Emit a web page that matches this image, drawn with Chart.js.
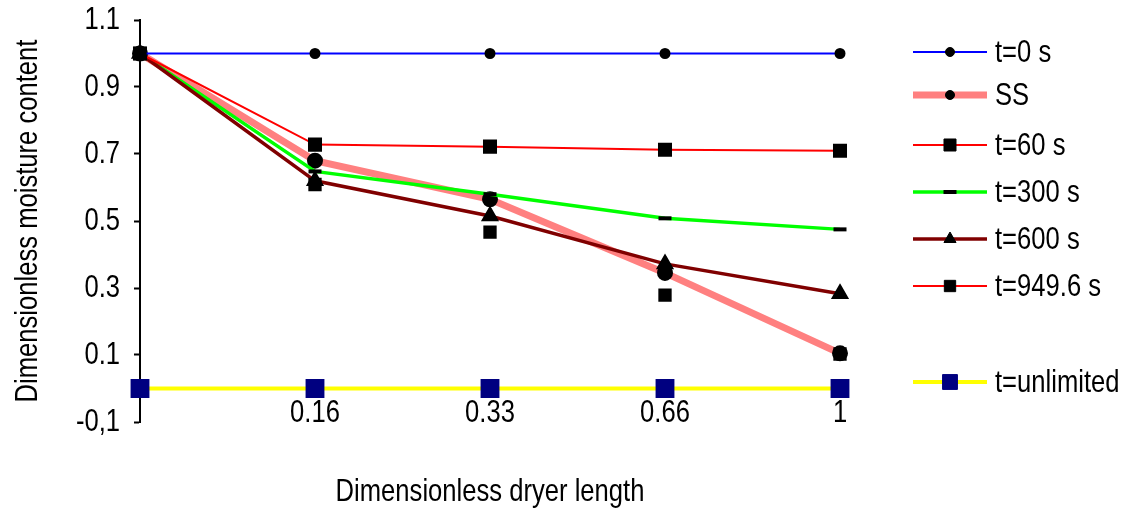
<!DOCTYPE html>
<html>
<head>
<meta charset="utf-8">
<title>Dimensionless moisture content along the dryer</title>
<script src="https://cdn.jsdelivr.net/npm/chart.js@4.4.0/dist/chart.umd.min.js"></script>
<style>
  html, body { margin: 0; padding: 0; background: #ffffff; }
  #wrap { width: 1128px; height: 511px; }
</style>
</head>
<body>
<div id="wrap"><canvas id="chart" width="1128" height="511"></canvas></div>
<script>
// Positions along the dryer (category axis, evenly spaced)
const lengthLabels = ['', '0.16', '0.33', '0.66', '1'];
// Y tick labels, bottom to top
const yTickLabels = ['-0,1', '0.1', '0.3', '0.5', '0.7', '0.9', '1.1'];
const seriesNames = ['t=0 s', 'SS', 't=60 s', 't=300 s', 't=600 s', 't=949.6 s', 't=unlimited'];

// Dimensionless moisture content for each time
const t0 = [1, 1, 1, 1, 1];
const steadyState = [1, 0.68, 0.565, 0.345, 0.105];
const t60 = [1, 0.728, 0.722, 0.713, 0.71];
const t300 = [1, 0.648, 0.58, 0.508, 0.475];
const t600 = [1, 0.62, 0.515, 0.372, 0.283];
const t949 = [1, 0.609, 0.467, 0.279, 0.103];
const tUnlimited = [0, 0, 0, 0, 0];

const FONT_FAMILY = '"Liberation Sans", Arial, sans-serif';
const baseFont = { family: FONT_FAMILY, size: 32, weight: 'normal' };
const TEXT_CONDENSE = 0.8;
Chart.defaults.font.family = FONT_FAMILY;
Chart.defaults.color = '#000000';

// Narrow lettering: squeeze text horizontally along its own baseline
function condenseText(ctx, factor) {
  const fill = ctx.fillText.bind(ctx);
  const measure = ctx.measureText.bind(ctx);
  ctx.fillText = function (text, x, y, maxWidth) {
    ctx.save();
    ctx.translate(x, y);
    ctx.scale(factor, 1);
    if (maxWidth !== undefined) fill(text, 0, 0, maxWidth / factor);
    else fill(text, 0, 0);
    ctx.restore();
  };
  ctx.measureText = function (text) {
    const m = measure(text);
    return {
      width: m.width * factor,
      actualBoundingBoxAscent: m.actualBoundingBoxAscent,
      actualBoundingBoxDescent: m.actualBoundingBoxDescent,
      actualBoundingBoxLeft: m.actualBoundingBoxLeft * factor,
      actualBoundingBoxRight: m.actualBoundingBoxRight * factor
    };
  };
}

const datasets = [
  { label: seriesNames[0], data: t0, borderColor: '#0000ff', borderWidth: 2,
    pointStyle: 'circle', pointRadius: 4.5, pointBackgroundColor: '#000', pointBorderColor: '#000', order: 1 },
  { label: seriesNames[1], data: steadyState, borderColor: '#ff8080', borderWidth: 7,
    pointStyle: 'circle', pointRadius: 4.5, pointBackgroundColor: '#000', pointBorderColor: '#000', order: 6 },
  { label: seriesNames[2], data: t60, borderColor: '#ff0000', borderWidth: 2,
    pointStyle: 'rect', pointRadius: 8.5, pointBackgroundColor: '#000', pointBorderColor: '#000', order: 2 },
  { label: seriesNames[3], data: t300, borderColor: '#00ff00', borderWidth: 3.5,
    pointStyle: 'line', pointRadius: 6.5, pointBorderWidth: 4, pointBackgroundColor: '#000', pointBorderColor: '#000', order: 4 },
  { label: seriesNames[4], data: t600, borderColor: '#800000', borderWidth: 3.5,
    pointStyle: 'triangle', pointRadius: 7, pointBackgroundColor: '#000', pointBorderColor: '#000', order: 3 },
  { label: seriesNames[5], data: t949, borderColor: '#ff0000', borderWidth: 2, showLine: false,
    pointStyle: 'rect', pointRadius: 8, pointBackgroundColor: '#000', pointBorderColor: '#000', order: 0 },
  { label: seriesNames[6], data: tUnlimited, borderColor: '#ffff00', borderWidth: 4,
    pointStyle: 'rect', pointRadius: 10.5, pointBackgroundColor: '#000080', pointBorderColor: '#000080', order: 5 }
];
datasets.forEach(ds => { ds.clip = false; ds.fill = false; ds.tension = 0; });

// Marker drawing for the side legend
function drawMarker(ctx, style, r, x, y, fill, stroke, bw) {
  ctx.fillStyle = fill;
  ctx.strokeStyle = stroke;
  ctx.lineWidth = bw;
  ctx.beginPath();
  if (style === 'circle') {
    ctx.arc(x, y, r, 0, Math.PI * 2);
    ctx.fill(); ctx.stroke();
  } else if (style === 'rect') {
    const s = r * Math.SQRT1_2;
    ctx.rect(x - s, y - s, 2 * s, 2 * s);
    ctx.fill(); ctx.stroke();
  } else if (style === 'triangle') {
    const side = 3 * r / Math.sqrt(3);
    const h = side * Math.sqrt(3) / 2;
    ctx.moveTo(x - side / 2, y + h / 3);
    ctx.lineTo(x + side / 2, y + h / 3);
    ctx.lineTo(x, y - 2 * h / 3);
    ctx.closePath();
    ctx.fill(); ctx.stroke();
  } else if (style === 'line') {
    ctx.moveTo(x - r, y);
    ctx.lineTo(x + r, y);
    ctx.stroke();
  }
}

const legendRows = [52, 95, 145, 192, 239, 286, 382];
const sideLegend = {
  id: 'sideLegend',
  afterDraw(chart) {
    const ctx = chart.ctx;
    chart.data.datasets.forEach((ds, i) => {
      const y = legendRows[i];
      ctx.save();
      ctx.strokeStyle = ds.borderColor;
      ctx.lineWidth = ds.borderWidth;
      ctx.beginPath();
      ctx.moveTo(913, y);
      ctx.lineTo(987, y);
      ctx.stroke();
      drawMarker(ctx, ds.pointStyle, ds.pointRadius, 950, y,
        ds.pointBackgroundColor, ds.pointBorderColor, ds.pointBorderWidth || 1);
      ctx.fillStyle = '#000';
      ctx.font = baseFont.size + 'px ' + FONT_FAMILY;
      ctx.textAlign = 'left';
      ctx.textBaseline = 'middle';
      ctx.fillText(ds.label, 995, y + 1);
      ctx.restore();
    });
  }
};

const canvas = document.getElementById('chart');
const context = canvas.getContext('2d');
condenseText(context, TEXT_CONDENSE);

new Chart(context, {
  type: 'line',
  data: { labels: lengthLabels, datasets },
  plugins: [sideLegend],
  options: {
    responsive: false,
    animation: false,
    events: [],
    layout: { padding: { top: 20, right: 288, bottom: 0, left: 0 } },
    plugins: { legend: { display: false }, tooltip: { enabled: false } },
    scales: {
      x: {
        type: 'category',
        offset: false,
        grid: { display: false, drawTicks: false },
        border: { display: false },
        // labels sit just above the bottom of the value range
        ticks: { font: baseFont, color: '#000', mirror: true, padding: -10, maxRotation: 0, autoSkip: false },
        title: { display: true, text: 'Dimensionless dryer length', font: baseFont, color: '#000',
                 padding: { top: 0, bottom: 0 } },
        afterFit(scale) {
          scale.height = 89;
          scale.paddingLeft = 0;
          scale.paddingRight = 0;
        }
      },
      y: {
        min: -0.1,
        max: 1.1,
        ticks: { stepSize: 0.2, font: baseFont, color: '#000', padding: 14,
                 callback: (value, index) => yTickLabels[index] },
        grid: { drawOnChartArea: false, drawTicks: true, tickLength: 6, tickColor: '#000', tickWidth: 2 },
        border: { display: true, color: '#000', width: 2 },
        title: { display: true, text: 'Dimensionless moisture content', font: baseFont, color: '#000',
                 padding: { top: 9, bottom: 0 } },
        afterFit(scale) {
          scale.width = 140;
          scale.paddingTop = 0;
          scale.paddingBottom = 0;
        }
      }
    }
  }
});
</script>
</body>
</html>
